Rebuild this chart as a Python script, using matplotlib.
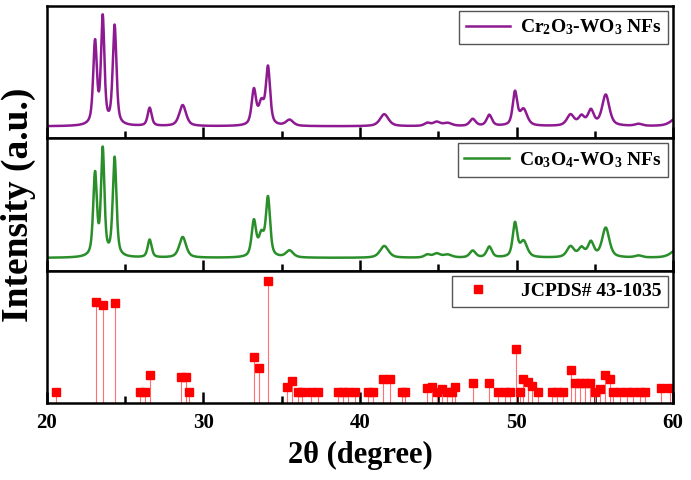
import numpy as np
import matplotlib
matplotlib.use("Agg")
from matplotlib import pyplot as plt
from matplotlib.lines import Line2D

plt.rcParams["font.family"] = ["Liberation Serif", "DejaVu Serif"]
plt.rcParams["font.weight"] = "bold"
plt.rcParams["mathtext.fontset"] = "custom"
plt.rcParams["mathtext.rm"] = "Liberation Serif:bold"
plt.rcParams["mathtext.default"] = "rm"

# XRD peaks (2theta, height in a.u., FWHM)
peak_pos = [23.07, 23.56, 24.32, 26.56, 28.67, 33.22, 33.70, 34.12, 35.50,
            41.55, 44.30, 44.90, 45.60, 47.20, 48.26, 49.90, 50.45, 53.45,
            54.15, 54.75, 55.70, 57.80, 60.30]
peak_width = [0.28, 0.26, 0.28, 0.30, 0.52, 0.34, 0.40, 0.32, 0.55,
              0.65, 0.45, 0.55, 0.65, 0.45, 0.40, 0.34, 0.55, 0.55,
              0.45, 0.45, 0.55, 0.55, 0.95]
cr_height = [82, 106, 99, 18, 21, 35, 21, 57, 6,
             12, 3, 4, 3, 7, 11, 33, 16, 11,
             9, 15, 31, 2, 9]
co_height = [83, 107, 100, 18, 21, 36, 21, 59, 7,
             12, 3, 4, 3, 7, 11, 34, 16, 11,
             9, 15, 30, 2, 9]

# JCPDS# 43-1035 reference lines
ref_pos = [20.58, 23.10, 23.58, 24.35, 25.94, 26.26, 26.58, 28.56, 28.88, 29.10,
           33.25, 33.55, 34.14, 35.36, 35.63, 36.06, 36.27, 36.90, 37.34,
           38.60, 38.94, 39.25, 39.68, 40.53, 40.85, 41.49, 41.92, 42.66, 42.88,
           44.26, 44.58, 44.90, 45.22, 45.54, 45.86, 46.07, 47.24, 48.24, 48.84,
           49.27, 49.58, 49.95, 50.22, 50.40, 50.75, 50.97, 51.39, 52.25, 52.57,
           52.99, 53.46, 53.74, 54.06, 54.38, 54.70, 55.00, 55.33, 55.65, 55.97,
           56.19, 56.60, 57.04, 57.47, 57.90, 58.20, 59.24, 59.81]
ref_height = [11, 100, 97, 99, 11, 11, 28, 26, 26, 11,
              46, 35, 121, 16, 22, 11, 11, 11, 11,
              11, 11, 11, 11, 11, 11, 24, 24, 11, 11,
              15, 16, 11, 14, 11, 11, 16, 20, 20, 11,
              11, 11, 54, 11, 24, 21, 17, 11, 11, 11,
              11, 33, 20, 20, 20, 20, 11, 14, 28, 24,
              11, 11, 11, 11, 11, 11, 15, 15]


def pattern(x, heights):
    y = np.zeros_like(x)
    for p, h, w in zip(peak_pos, heights, peak_width):
        lor = 1.0 / (1.0 + (2 * (x - p) / w) ** 2)
        gau = np.exp(-4 * np.log(2) * ((x - p) / w) ** 2)
        y += h * (0.6 * lor + 0.4 * gau)
    return y


x = np.linspace(20, 60, 4000)

fig = plt.figure(figsize=(6.91, 4.80), dpi=100)
axes = fig.subplots(3, 1, sharex=True)
fig.subplots_adjust(left=0.068, right=0.974, top=0.9875, bottom=0.16, hspace=0)

def style(ax):
    for s in ax.spines.values():
        s.set_linewidth(1.8)
    ax.set_yticks([])
    ax.set_xlim(20, 60)
    ax.set_xticks([20, 30, 40, 50, 60])
    ax.set_xticks([25, 35, 45, 55], minor=True)
    ax.tick_params(axis="x", which="major", direction="in", length=8, width=1.8,
                   labelsize=15, pad=7)
    ax.tick_params(axis="x", which="minor", direction="in", length=5, width=1.8)

leg_kw = dict(loc="upper right", fontsize=14, fancybox=False, framealpha=1,
              edgecolor="#555555", borderaxespad=0.25, borderpad=0.35,
              handlelength=2.3, handletextpad=0.5)

ax = axes[0]
ax.plot(x, pattern(x, cr_height), color="#8e1a92", lw=1.8,
        label="Cr$_2$O$_3$-WO$_3$ NFs")
ax.set_ylim(-12, 120)
style(ax)
ax.legend(**leg_kw).get_frame().set_linewidth(1.0)

ax = axes[1]
ax.plot(x, pattern(x, co_height), color="#2a8f2a", lw=1.8,
        label="Co$_3$O$_4$-WO$_3$ NFs")
ax.set_ylim(-13, 121)
style(ax)
ax.legend(**leg_kw).get_frame().set_linewidth(1.0)

ax = axes[2]
ax.vlines(ref_pos, 0, ref_height, color="#ff7070", lw=0.8)
ax.plot(ref_pos, ref_height, "s", color="#ff0000", ms=6, ls="none")
ax.set_ylim(0, 131)
style(ax)
h = Line2D([], [], marker="s", color="#ff0000", ms=6, ls="none")
lg = ax.legend([h], ["JCPDS# 43-1035"], **dict(leg_kw, handlelength=2.0,
                                               handletextpad=1.2))
lg.get_frame().set_linewidth(1.0)
ax.set_xlabel("2\u03b8 (degree)", fontsize=22, fontweight="bold", labelpad=6)
for lab in ax.get_xticklabels():
    lab.set_fontweight("bold")

fig.text(0.026, 0.574, "Intensity (a.u.)", rotation=90, fontsize=27,
         fontweight="bold", ha="center", va="center")

fig.savefig("out.png", dpi=100)
